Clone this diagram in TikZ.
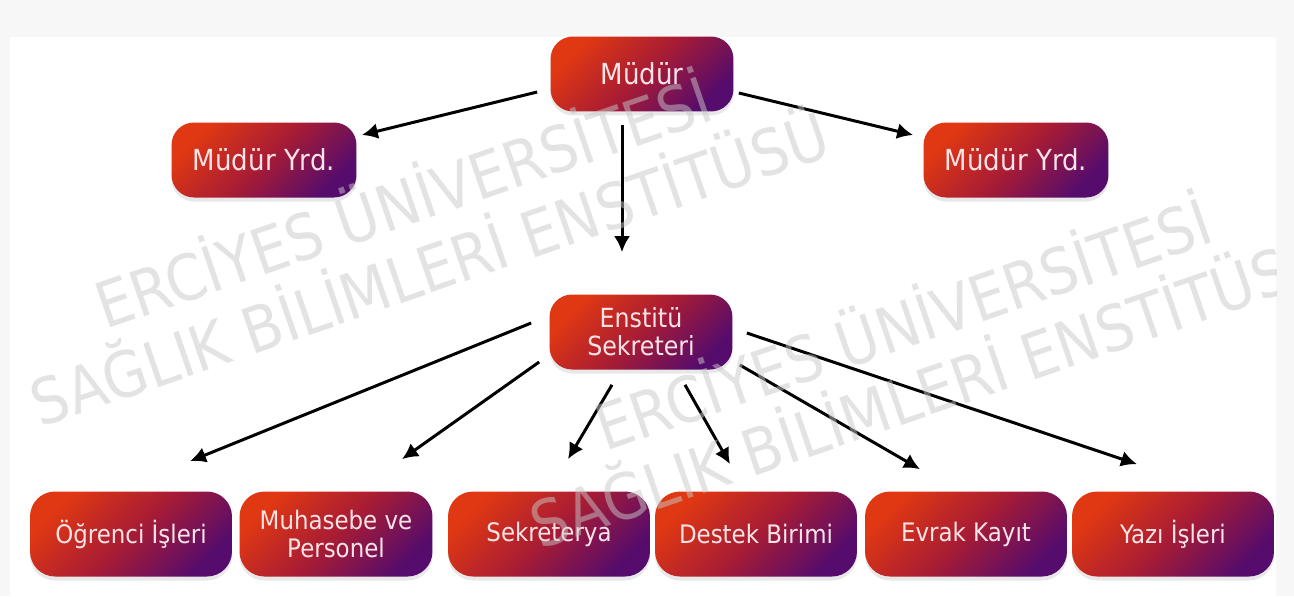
\documentclass[tikz,border=0pt]{standalone}
\usepackage{fontspec}
\setmainfont{DejaVu Sans}[FakeStretch=0.9]
\usetikzlibrary{arrows.meta,shadows}
\definecolor{boxorange}{HTML}{E03812}
\definecolor{boxred}{HTML}{A81C34}
\definecolor{boxpurple}{HTML}{560C6C}
\definecolor{boxtext}{HTML}{FBE3E6}
\definecolor{wmgray}{HTML}{C8C8C8}
\definecolor{bggray}{HTML}{F7F7F7}
\begin{document}
\begin{tikzpicture}[x=0.02cm, y=-0.02cm,
		unit/.style={rounded corners=0.45cm, top color=boxorange, bottom color=boxpurple, middle color=boxred, shading angle=45, text=boxtext, align=center, minimum width=3.66cm, minimum height=1.5cm, inner sep=0pt, font=\fontsize{16.5}{16.5}\selectfont, drop shadow={opacity=0.18, shadow xshift=0pt, shadow yshift=-0.08cm}},
		office/.style={unit, rounded corners=0.5cm, minimum width=4.04cm, minimum height=1.7cm, font=\fontsize{14.5}{15.5}\selectfont},
		arr/.style={-{Latex[length=0.32cm,width=0.32cm]}, line width=1.7pt},
		wm/.style={anchor=base west, rotate=19, text=wmgray, opacity=0.5, inner sep=0pt, font=\fontsize{36}{36}\selectfont}]
	\useasboundingbox (0,0) rectangle (1294,596);
	\fill [bggray] (0,0) rectangle (1294,596);
	\fill [white] (10,37) rectangle (1276,596);
	% top of the chart
	\node [unit] (mudur) at (642,74) {Müdür};
	\node [unit, minimum width=3.7cm] (yrdleft) at (264,160) {Müdür Yrd.};
	\node [unit, minimum width=3.7cm] (yrdright) at (1016,160) {Müdür Yrd.};
	\node [unit, font=\fontsize{15}{16}\selectfont] (sekreter) at (641,332) {Enstitü\\Sekreteri};
	% units under the secretary
	\node [office] (ogrenci) at (131,534) {Öğrenci İşleri};
	\node [office, minimum width=3.86cm] (muhasebe) at (336,534) {Muhasebe ve\\Personel};
	\node [office] (sekreterya) at (549,534) {Sekreterya};
	\node [office] (destek) at (756,534) {Destek Birimi};
	\node [office] (evrak) at (966,534) {Evrak Kayıt};
	\node [office] (yazi) at (1173,534) {Yazı İşleri};
	% arrows
	\draw [arr] ([shift={(-13,18)}]mudur.west) -- ([shift={(5,-25)}]yrdleft.east);
	\draw [arr] ([shift={(5,19)}]mudur.east) -- ([shift={(-10,-25)}]yrdright.west);
	\draw [arr] ([shift={(-20,13)}]mudur.south) -- ([shift={(-19,-42)}]sekreter.north);
	\draw [arr] ([shift={(-18,-9)}]sekreter.west) -- ([shift={(59,-30)}]ogrenci.north);
	\draw [arr] ([shift={(-10,30)}]sekreter.west) -- ([shift={(66,-32)}]muhasebe.north);
	\draw [arr] ([shift={(-29,15)}]sekreter.south) -- ([shift={(19,-32)}]sekreterya.north);
	\draw [arr] ([shift={(44,15)}]sekreter.south) -- ([shift={(-26,-27)}]destek.north);
	\draw [arr] ([shift={(7,33)}]sekreter.east) -- ([shift={(-46,-22)}]evrak.north);
	\draw [arr] ([shift={(14,1)}]sekreter.east) -- ([shift={(-36,-27)}]yazi.north);
	% watermark
	\begin{scope}
		\clip (10,37) rectangle (1276,596);
		\node [wm] (wmaa) at (105,330) {ERCİYES ÜNİVERSİTESİ};
		\node [wm] (wmab) at (40,428) {SAĞLIK BİLİMLERİ ENSTİTÜSÜ};
		\node [wm] (wmba) at (605,452) {ERCİYES ÜNİVERSİTESİ};
		\node [wm] (wmbb) at (540,550) {SAĞLIK BİLİMLERİ ENSTİTÜSÜ};
	\end{scope}
\end{tikzpicture}
\end{document}
